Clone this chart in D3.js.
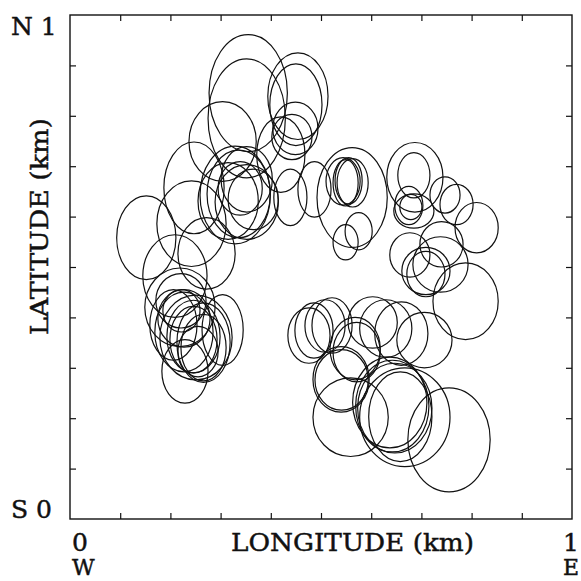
<!DOCTYPE html>
<html>
<head>
<meta charset="utf-8">
<script src="https://cdn.jsdelivr.net/npm/d3@7"></script>
<style>
  html, body { margin: 0; padding: 0; background: #fff; }
  svg { display: block; }
  text { font-family: "DejaVu Serif", "Liberation Serif", serif; fill: #111; stroke: #111; stroke-width: 0.45px; }
</style>
</head>
<body>
<svg id="chart" width="581" height="581"></svg>
<script>
// Error ellipses of located sources: centre (km) and semi-axes (km)
const lon = [
  0.355,0.352,0.454,0.450,0.449,0.442,0.420,0.304,0.247,
  0.329,0.336,0.339,0.365,0.439,0.487,0.352,0.315,0.352,
  0.152,0.242,0.272,0.209,
  0.219,0.221,0.227,0.227,0.251,0.246,0.304,0.229,0.266,0.246,0.222,0.255,0.206,0.266,
  0.562,0.544,0.549,0.563,0.555,0.549,0.575,
  0.687,0.685,0.675,0.679,0.685,0.747,0.770,0.810,0.677,0.740,0.738,0.709,0.709,0.788,
  0.476,0.486,0.508,0.522,0.568,0.571,0.540,0.541,0.603,0.629,0.660,0.706,0.559,0.637,0.642,0.647,0.658,0.667,0.755
];
const lat = [
  0.845,0.795,0.839,0.822,0.775,0.758,0.723,0.749,0.657,
  0.643,0.645,0.656,0.634,0.638,0.654,0.674,0.631,0.629,
  0.558,0.586,0.527,0.482,
  0.420,0.433,0.398,0.371,0.360,0.362,0.375,0.293,0.350,0.356,0.413,0.332,0.385,0.340,
  0.638,0.670,0.667,0.667,0.671,0.549,0.571,
  0.678,0.682,0.622,0.619,0.611,0.643,0.624,0.578,0.524,0.545,0.505,0.492,0.486,0.432,
  0.364,0.374,0.383,0.384,0.338,0.331,0.277,0.276,0.390,0.378,0.368,0.355,0.202,0.231,0.224,0.220,0.203,0.202,0.157
];
const semiEW = [
  0.078,0.077,0.060,0.052,0.045,0.040,0.048,0.067,0.060,
  0.070,0.063,0.044,0.050,0.033,0.033,0.051,0.060,0.063,
  0.059,0.069,0.057,0.064,
  0.070,0.050,0.052,0.058,0.072,0.053,0.041,0.046,0.053,0.047,0.037,0.040,0.047,0.045,
  0.070,0.034,0.025,0.031,0.027,0.025,0.027,
  0.056,0.032,0.028,0.022,0.040,0.030,0.033,0.043,0.040,0.043,0.055,0.048,0.038,0.065,
  0.042,0.038,0.040,0.040,0.050,0.047,0.056,0.053,0.049,0.052,0.053,0.055,0.075,0.074,0.073,0.074,0.063,0.090,0.082
];
const semiNS = [
  0.116,0.118,0.086,0.081,0.052,0.045,0.075,0.079,0.091,
  0.097,0.087,0.053,0.060,0.056,0.055,0.065,0.076,0.074,
  0.083,0.085,0.071,0.082,
  0.078,0.054,0.057,0.079,0.084,0.072,0.070,0.063,0.079,0.066,0.042,0.050,0.070,0.066,
  0.099,0.047,0.046,0.048,0.046,0.035,0.037,
  0.069,0.045,0.038,0.025,0.034,0.036,0.040,0.050,0.044,0.045,0.055,0.047,0.045,0.076,
  0.055,0.055,0.052,0.055,0.062,0.059,0.065,0.060,0.051,0.057,0.063,0.055,0.078,0.090,0.091,0.089,0.089,0.098,0.103
];
const tickValues = [0.1,0.2,0.3,0.4,0.5,0.6,0.7,0.8,0.9];

const svg = d3.select("#chart");
const pLeft = 70, pRight = 572, pTop = 15, pBottom = 519;
const x = d3.scaleLinear().domain([0, 1]).range([pLeft, pRight]);
const y = d3.scaleLinear().domain([0, 1]).range([pBottom, pTop]);

const data = lon.map((d, i) => ({ lon: d, lat: lat[i], ew: semiEW[i], ns: semiNS[i] }));

// ellipses
svg.append("g")
  .selectAll("ellipse")
  .data(data)
  .join("ellipse")
  .attr("cx", d => x(d.lon))
  .attr("cy", d => y(d.lat))
  .attr("rx", d => x(d.ew) - x(0))
  .attr("ry", d => y(0) - y(d.ns))
  .attr("fill", "none")
  .attr("stroke", "#111")
  .attr("stroke-width", 1.2);

// frame
svg.append("rect")
  .attr("x", pLeft).attr("y", pTop)
  .attr("width", pRight - pLeft).attr("height", pBottom - pTop)
  .attr("fill", "none").attr("stroke", "#111").attr("stroke-width", 1.4);

// inward ticks on all four sides
function styleAxis(g) {
  g.select(".domain").remove();
  g.selectAll(".tick line").attr("stroke", "#111").attr("stroke-width", 1.2);
  g.selectAll(".tick text").remove();
}
svg.append("g").attr("transform", `translate(0,${pBottom})`)
  .call(d3.axisBottom(x).tickValues(tickValues).tickSize(-6).tickFormat(""))
  .call(styleAxis);
svg.append("g").attr("transform", `translate(0,${pTop})`)
  .call(d3.axisTop(x).tickValues(tickValues).tickSize(-6).tickFormat(""))
  .call(styleAxis);
svg.append("g").attr("transform", `translate(${pLeft},0)`)
  .call(d3.axisLeft(y).tickValues(tickValues).tickSize(-6).tickFormat(""))
  .call(styleAxis);
svg.append("g").attr("transform", `translate(${pRight},0)`)
  .call(d3.axisRight(y).tickValues(tickValues).tickSize(-6).tickFormat(""))
  .call(styleAxis);

// labels
const fs = 25;
svg.append("text").attr("x", 11).attr("y", 35).attr("font-size", fs).text("N 1");
svg.append("text").attr("x", 11).attr("y", 518).attr("font-size", fs).text("S 0");

function cornerLabel(xPos, top, bottom) {
  const t = svg.append("text").attr("x", xPos).attr("y", 551).attr("font-size", fs);
  t.append("tspan").attr("x", xPos).attr("y", 551).text(top);
  t.append("tspan").attr("x", xPos).attr("y", 575).attr("font-size", 22).text(bottom);
}
cornerLabel(72, "0", "W");
cornerLabel(563, "1", "E");

svg.append("text").attr("x", 231).attr("y", 551).attr("font-size", fs)
  .attr("textLength", 243).attr("lengthAdjust", "spacingAndGlyphs")
  .text("LONGITUDE (km)");
svg.append("text").attr("transform", "translate(48,335) rotate(-90)")
  .attr("font-size", fs)
  .attr("textLength", 217).attr("lengthAdjust", "spacingAndGlyphs")
  .text("LATITUDE (km)");
</script>
</body>
</html>
